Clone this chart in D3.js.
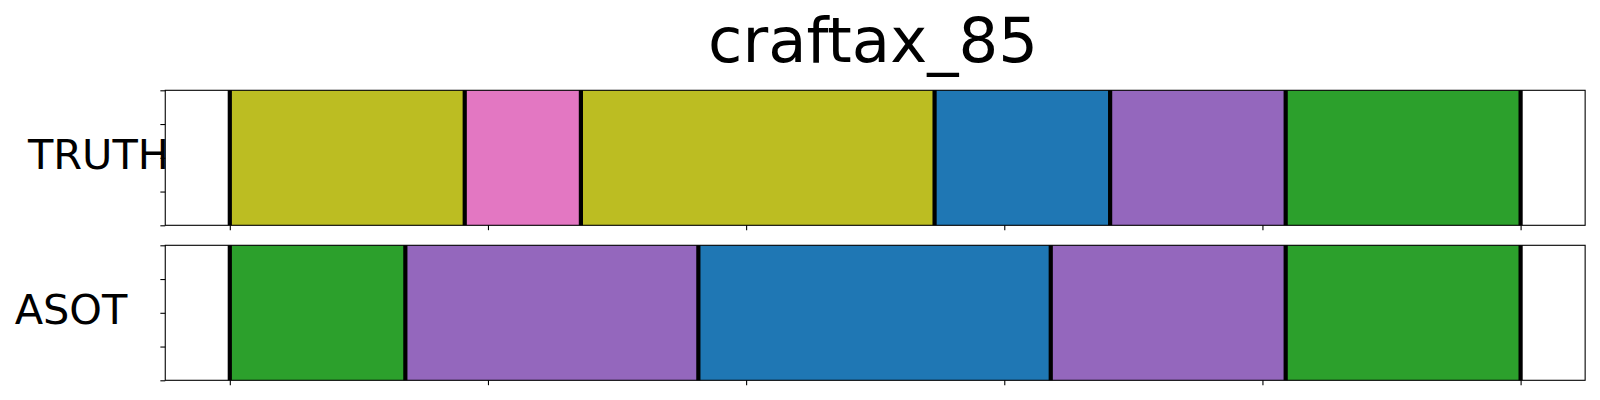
<!DOCTYPE html>
<html>
<head>
<meta charset="utf-8">
<script src="https://cdn.jsdelivr.net/npm/d3@7"></script>
<style>
  html, body { margin: 0; padding: 0; background: #fff; }
  svg { display: block; font-family: "DejaVu Sans", sans-serif; }
</style>
</head>
<body>
<svg id="chart" width="1600" height="400"></svg>
<script>
// ---- data ----
const title = "craftax_85";
const trackNames = ["TRUTH", "ASOT"];
const truthBounds = [0, 91, 136, 273, 341, 409, 500];
const truthClasses = [8, 6, 8, 0, 4, 2];
const asotBounds = [0, 68, 181.5, 318, 409, 500];
const asotClasses = [2, 4, 0, 4, 2];
const xTicks = [0, 100, 200, 300, 400, 500];
const yTicks = [0, 0.25, 0.5, 0.75, 1];
const palette = ["#1f77b4", "#ff7f0e", "#2ca02c", "#d62728", "#9467bd",
                 "#8c564b", "#e377c2", "#7f7f7f", "#bcbd22", "#17becf"];

const svg = d3.select("#chart");
const x = d3.scaleLinear().domain([0, 500]).range([229.8, 1520.6]);
const xMin = -25, xMax = 525;

const panels = [
  { name: trackNames[0], bounds: truthBounds, classes: truthClasses, top: 90.3, bottom: 225.3, labelX: 98.5, labelY: 169 },
  { name: trackNames[1], bounds: asotBounds, classes: asotClasses, top: 245.3, bottom: 380.3, labelX: 71, labelY: 324 }
];

panels.forEach(p => {
  const y = d3.scaleLinear().domain([0, 1]).range([p.bottom, p.top]);
  const g = svg.append("g");
  const segs = p.classes.map((c, i) => ({ s: p.bounds[i], e: p.bounds[i + 1], c }));

  g.selectAll("rect.seg").data(segs).enter().append("rect")
    .attr("class", "seg")
    .attr("x", d => x(d.s))
    .attr("width", d => x(d.e) - x(d.s))
    .attr("y", y(1))
    .attr("height", y(0) - y(1))
    .attr("fill", d => palette[d.c]);

  g.selectAll("line.bound").data(p.bounds).enter().append("line")
    .attr("class", "bound")
    .attr("x1", d => x(d)).attr("x2", d => x(d))
    .attr("y1", y(1)).attr("y2", y(0))
    .attr("stroke", "#000").attr("stroke-width", 4.2);

  // frame
  g.append("rect")
    .attr("x", x(xMin)).attr("y", y(1))
    .attr("width", x(xMax) - x(xMin)).attr("height", y(0) - y(1))
    .attr("fill", "none").attr("stroke", "#000").attr("stroke-width", 1.1);

  const ax = g.append("g").attr("transform", `translate(0,${y(0)})`)
    .call(d3.axisBottom(x).tickValues(xTicks).tickSize(4.9).tickFormat(""));
  ax.select(".domain").remove();
  ax.selectAll("line").attr("stroke-width", 1.1);

  const ay = g.append("g").attr("transform", `translate(${x(xMin)},0)`)
    .call(d3.axisLeft(y).tickValues(yTicks).tickSize(4.9).tickFormat(""));
  ay.select(".domain").remove();
  ay.selectAll("line").attr("stroke-width", 1.1);

  svg.append("text")
    .attr("x", p.labelX).attr("y", p.labelY)
    .attr("text-anchor", "middle")
    .attr("font-size", 41.5)
    .attr("fill", "#000")
    .text(p.name);
});

svg.append("text")
  .attr("x", 873).attr("y", 62)
  .attr("text-anchor", "middle")
  .attr("font-size", 62.5)
  .attr("fill", "#000")
  .text(title);
</script>
</body>
</html>
